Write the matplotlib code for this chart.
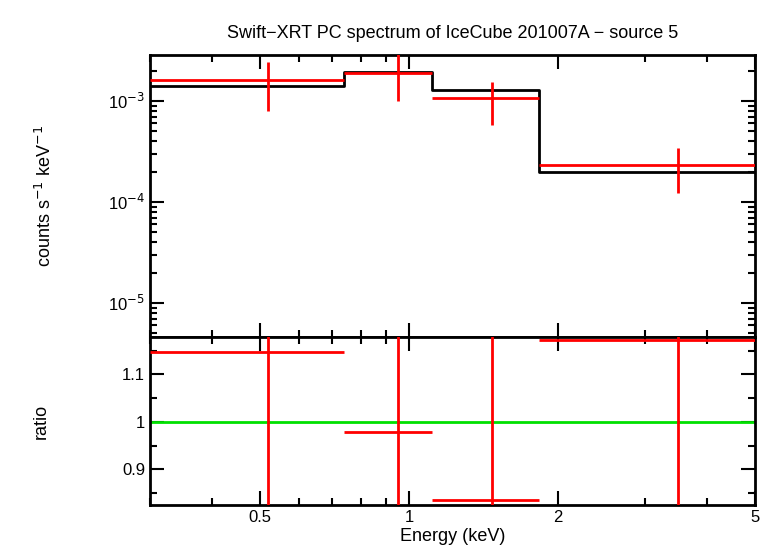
import matplotlib
matplotlib.use("Agg")
import matplotlib.pyplot as plt
import numpy as np
from matplotlib.ticker import FixedLocator, FixedFormatter, NullFormatter

plt.rcParams['font.family'] = 'Liberation Sans'

edges = [0.3, 0.74, 1.114, 1.83, 5.0]
centers = [0.52, 0.95, 1.47, 3.5]
rate = [1.6e-3, 1.9e-3, 1.07e-3, 2.32e-4]
rate_lo = [8.0e-4, 1.0e-3, 5.8e-4, 1.23e-4]
rate_hi = [2.43e-3, 3.2e-3, 1.54e-3, 3.4e-4]
model = [1.41e-3, 1.95e-3, 1.29e-3, 2.0e-4]
ratio = [1.147, 0.979, 0.836, 1.172]
ratio_err = [0.55, 0.5, 0.5, 0.5]

W, H = 770, 556
fig = plt.figure(figsize=(W/100, H/100), dpi=100)
x0, x1 = 150/W, 755/W
ax1 = fig.add_axes([x0, 1-337/H, x1-x0, (337-55)/H])
ax2 = fig.add_axes([x0, 1-505/H, x1-x0, (505-337)/H], sharex=ax1)

lo = np.array(edges[:-1]); hi = np.array(edges[1:]); c = np.array(centers)
r = np.array(rate)
ax1.errorbar(c, r, yerr=[r-np.array(rate_lo), np.array(rate_hi)-r],
             xerr=[c-lo, hi-c], fmt='none', ecolor='red', elinewidth=2, capsize=0, zorder=3)
ax1.step(edges, model + [model[-1]], where='post', color='black', lw=2, zorder=2)
ax1.set_yscale('log'); ax1.set_xscale('log')
ax1.set_xlim(0.3, 5.0); ax1.set_ylim(4.6e-6, 2.85e-3)
ax1.set_ylabel('counts s$^{-1}$ keV$^{-1}$', fontsize=13, labelpad=38)
ax1.set_title('Swift\u2212XRT PC spectrum of IceCube 201007A \u2212 source 5', fontsize=13, pad=12)
ax1.set_yticks([1e-5, 1e-4, 1e-3])
ax1.set_yticklabels(['10$^{-5}$', '10$^{-4}$', '10$^{-3}$'])
plt.setp(ax1.get_xticklabels(), visible=False)

ra = np.array(ratio)
ax2.errorbar(c, ra, yerr=ratio_err, xerr=[c-lo, hi-c], fmt='none', ecolor='red',
             elinewidth=2, capsize=0, zorder=3)
ax2.axhline(1.0, color='#00e000', lw=2, zorder=2)
ax2.set_ylim(0.825, 1.179)
ax2.set_yticks([0.9, 1.0, 1.1]); ax2.set_yticklabels(['0.9', '1', '1.1'])
ax2.set_ylabel('ratio', fontsize=13, labelpad=52)
ax2.set_xlabel('Energy (keV)', fontsize=13, labelpad=2)
ax2.xaxis.set_major_locator(FixedLocator([0.5, 1, 2, 5]))
ax2.xaxis.set_major_formatter(FixedFormatter(['0.5', '1', '2', '5']))
ax2.xaxis.set_minor_locator(FixedLocator([0.3, 0.4, 0.6, 0.7, 0.8, 0.9, 3, 4]))
ax2.xaxis.set_minor_formatter(NullFormatter())
ax2.yaxis.set_minor_locator(FixedLocator(np.arange(0.85, 1.18, 0.05)))

for ax in (ax1, ax2):
    for s in ax.spines.values():
        s.set_linewidth(2)
    ax.tick_params(which='both', direction='in', top=True, right=True, labelsize=12, width=1.5)
    ax.tick_params(which='major', length=10)
    ax.tick_params(which='minor', length=5)

fig.savefig('out.png', dpi=100)
